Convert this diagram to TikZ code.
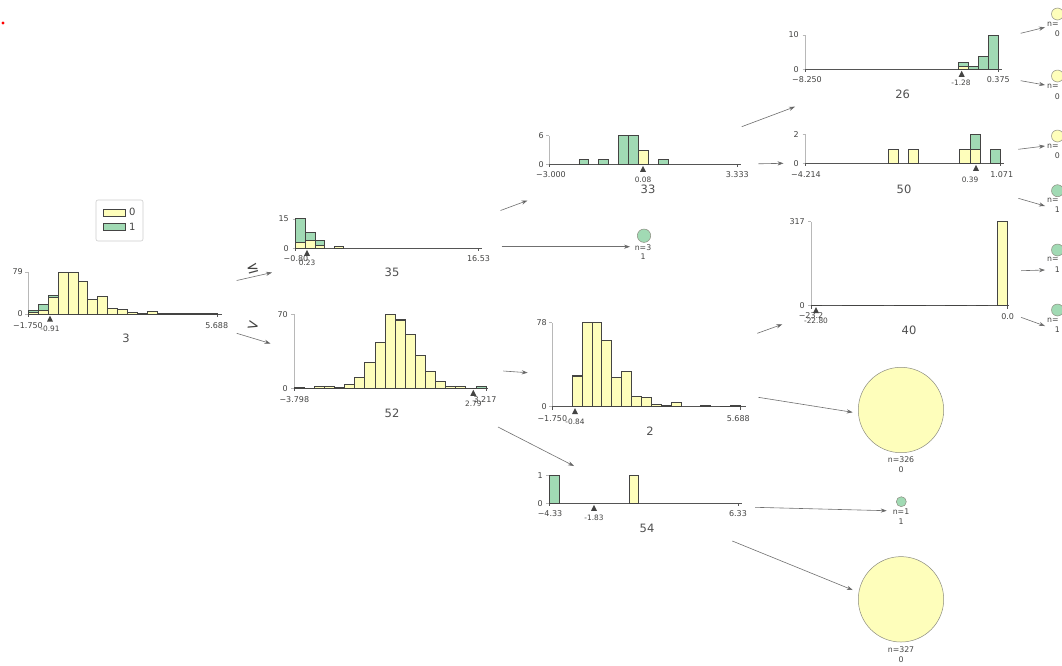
\documentclass[tikz,border=0pt]{standalone}
\usepackage{fontspec}
\setmainfont{DejaVu Sans}
\usetikzlibrary{arrows.meta}

\definecolor{cyel}{HTML}{FEFEBB}
\definecolor{cgrn}{HTML}{A1DAB4}
\definecolor{ink}{HTML}{444443}
\definecolor{idink}{HTML}{505050}
\definecolor{axisgray}{HTML}{B8B8B8}
\definecolor{axisdark}{HTML}{555555}
\definecolor{linegray}{HTML}{707070}
\definecolor{leafedge}{HTML}{8C8C80}
\definecolor{legendedge}{HTML}{CCCCCC}

% axes of one histogram: x0, x1, baseline, top, right overhang
\newcommand{\histframe}[5]{%
  \draw[yaxisline] (#1,#3) -- (#1,#4);
  \draw[yaxisline] (#1-3,#4) -- (#1,#4);
  \draw[yaxisline] (#1-3,#3) -- (#1,#3);
  \draw[xaxisline] (#1,#3) -- (#2+#5,#3);
  \draw[xaxisline] (#1,#3) -- (#1,#3+3);
  \draw[xaxisline] (#2,#3) -- (#2,#3+3);
}
% stacked bars: x0, baseline, bin width, list bin/yellow/green (heights)
\newcommand{\histbars}[4]{%
  \foreach \b/\ya/\gb in {#4}{%
    \pgfmathsetmacro{\xl}{#1+\b*#3}%
    \ifdim\ya pt>0pt \draw[barstyle,fill=cyel] (\xl,#2) rectangle ++(#3,-\ya);\fi
    \ifdim\gb pt>0pt \draw[barstyle,fill=cgrn] (\xl,#2-\ya) rectangle ++(#3,-\gb);\fi
  }}
% split marker below the axis: x, baseline
\newcommand{\splitmark}[2]{\fill[ink] (#1,#2+1.5) -- (#1+3,#2+7.5) -- (#1-3,#2+7.5) -- cycle;}

\tikzset{
  barstyle/.style={draw=ink, line width=0.45pt},
  yaxisline/.style={draw=axisgray, line width=0.6pt},
  xaxisline/.style={draw=axisdark, line width=0.6pt},
  tick/.style={font=\fontsize{8}{9}\selectfont, text=ink, inner sep=0pt},
  thr/.style={font=\fontsize{7.4}{8}\selectfont, text=ink, inner sep=0pt},
  nid/.style={font=\fontsize{11.5}{13}\selectfont, text=idink, inner sep=0pt},
  leaftxt/.style={font=\fontsize{7.8}{8}\selectfont, text=ink, inner sep=0pt},
  edgesym/.style={font=\fontsize{15}{16}\selectfont, text=ink, inner sep=0pt},
  legtxt/.style={font=\fontsize{10}{11}\selectfont, text=ink, inner sep=0pt, anchor=west},
  conn/.style={draw=linegray, line width=0.6pt, -{Stealth[length=6pt,width=4.2pt,fill=ink]}},
  leafY/.style={circle, draw=leafedge, fill=cyel, line width=0.5pt, inner sep=0pt, minimum size=#1},
  leafG/.style={circle, draw=leafedge, fill=cgrn, line width=0.5pt, inner sep=0pt, minimum size=#1},
  swatch/.style={draw=ink, line width=0.4pt},
}

\begin{document}
\begin{tikzpicture}[x=1pt,y=-1pt]
\useasboundingbox (0,0) rectangle (1062,665);
\fill[white] (0,0) rectangle (1062,665);

% small red marker in the corner
\fill[red] (3,23) circle (1.6);

% ---------- legend ----------
\draw[draw=legendedge, fill=white, line width=0.6pt, rounded corners=2pt] (96,200) rectangle (143,241);
\draw[swatch, fill=cyel] (103.5,209) rectangle (125,215.7);
\draw[swatch, fill=cgrn] (103.5,222.7) rectangle (125,230);
\node[legtxt] (leg0) at (129,212.3) {0};
\node[legtxt] (leg1) at (129,226.7) {1};

% ---------- node 3 (root) ----------
\histframe{28}{217}{314}{272}{5}
\histbars{28}{314}{9.947}{0/2/2, 1/3.3/6.4, 2/16.3/2.4, 3/42/0, 4/42/0, 5/33/0, 6/15/0, 7/18/0, 8/5.7/0, 9/5/0, 10/1.7/0, 11/1/0, 12/3/0, 13/0.6/0, 14/0.4/0, 15/0.8/0, 16/0.3/0, 17/0.3/0, 18/0.7/0}
\node[tick,anchor=east] (r-ymax) at (23,272) {79};
\node[tick,anchor=east] (r-y0) at (23,314) {0};
\node[tick] (r-xmin) at (28,325.5) {−1.750};
\node[tick] (r-xmax) at (216.7,325.5) {5.688};
\splitmark{50}{314}
\node[thr] (r-split) at (50,328.5) {-0.91};
\node[nid] (n3) at (126,338.5) {3};

% ---------- node 35 ----------
\histframe{295.7}{478.4}{248.3}{219}{4}
\histbars{295.7}{248.3}{9.6}{0/5.7/24.3, 1/7.7/8.3, 2/3/5, 4/2/0}
\node[tick,anchor=east] (a-ymax) at (289,219) {15};
\node[tick,anchor=east] (a-y0) at (289,248.3) {0};
\node[tick] (a-xmin) at (296,258.8) {−0.80};
\node[tick] (a-xmax) at (478.5,258.8) {16.53};
\splitmark{307}{248.3}
\node[thr] (a-split) at (307,262.5) {0.23};
\node[nid] (n35) at (392,272.7) {35};

% ---------- node 52 ----------
\histframe{294}{486}{388.3}{314.3}{2}
\histbars{294}{388.3}{10.1}{0/0/0.8, 1/0.4/0, 2/1.7/0, 3/2.3/0, 4/1.3/0, 5/4.3/0, 6/10.7/0, 7/25.7/0, 8/46.3/0, 9/74/0, 10/68.5/0.8, 11/54/0, 12/33/0, 13/17/0, 14/7.3/0, 15/2.3/0, 16/1.7/0, 17/0.5/0, 18/0/2.3}
\node[tick,anchor=east] (b-ymax) at (288,314.3) {70};
\node[tick,anchor=east] (b-y0) at (288,388.3) {0};
\node[tick] (b-xmin) at (294.3,400) {−3.798};
\node[tick] (b-xmax) at (485,399.3) {3.217};
\splitmark{473.3}{388.3}
\node[thr] (b-split) at (473.3,403.5) {2.79};
\node[nid] (n52) at (392,413) {52};

% ---------- node 33 ----------
\histframe{549}{737.3}{164.3}{135.7}{4}
\histbars{549}{164.3}{9.91}{3/0/4.78, 5/0/4.78, 7/0/28.6, 8/0/28.6, 9/14.3/0, 11/0/4.78}
\node[tick,anchor=east] (c-ymax) at (544,135.7) {6};
\node[tick,anchor=east] (c-y0) at (544,164.3) {0};
\node[tick] (c-xmin) at (551,175) {−3.000};
\node[tick] (c-xmax) at (737.3,175) {3.333};
\splitmark{643}{164.3}
\node[thr] (c-split) at (643,180) {0.08};
\node[nid] (n33) at (648,189.3) {33};

% ---------- node 2 ----------
\histframe{552.3}{740}{406.7}{322.7}{6}
\histbars{552.3}{406.7}{9.88}{2/30.7/0.6, 3/84/0, 4/84/0, 5/66/0, 6/29.3/0, 7/35/0, 8/10/0, 9/9/0, 10/2.3/0, 11/1.3/0, 12/4.3/0, 15/1/0, 17/0.5/0, 18/1/0}
\node[tick,anchor=east] (d-ymax) at (547,322.7) {78};
\node[tick,anchor=east] (d-y0) at (547,406.7) {0};
\node[tick] (d-xmin) at (552.3,418.3) {−1.750};
\node[tick] (d-xmax) at (738.3,418.3) {5.688};
\splitmark{575}{406.7}
\node[thr] (d-split) at (575,422) {-0.84};
\node[nid] (n2) at (650,431.7) {2};

% ---------- node 54 ----------
\histframe{549.3}{738}{503.3}{475.7}{4}
\histbars{549.3}{503.3}{9.93}{0/0/27.6, 8/27.6/0}
\node[tick,anchor=east] (e-ymax) at (543,475.7) {1};
\node[tick,anchor=east] (e-y0) at (543,503.3) {0};
\node[tick] (e-xmin) at (550,514) {−4.33};
\node[tick] (e-xmax) at (738,514) {6.33};
\splitmark{594}{503.3}
\node[thr] (e-split) at (594,518) {-1.83};
\node[nid] (n54) at (647,528) {54};

% ---------- node 26 ----------
\histframe{805.7}{998.3}{69.3}{35}{4}
\histbars{805.7}{69.3}{10.14}{15/2.7/4.3, 16/0/2.7, 17/0/13.3, 18/0/34.3}
\node[tick,anchor=east] (f-ymax) at (799,35) {10};
\node[tick,anchor=east] (f-y0) at (799,69.3) {0};
\node[tick] (f-xmin) at (807,80) {−8.250};
\node[tick] (f-xmax) at (998.3,80) {0.375};
\splitmark{961.7}{69.3}
\node[thr] (f-split) at (961,83) {-1.28};
\node[nid] (n26) at (902.7,94.3) {26};

% ---------- node 50 ----------
\histframe{805.7}{1000.7}{163.3}{134.3}{3}
\histbars{805.7}{163.3}{10.26}{8/14.5/0, 10/14.5/0, 15/14.5/0, 16/14.5/14.5, 18/0/14.5}
\node[tick,anchor=east] (g-ymax) at (799,134.3) {2};
\node[tick,anchor=east] (g-y0) at (799,163.3) {0};
\node[tick] (g-xmin) at (806,175) {−4.214};
\node[tick] (g-xmax) at (1001.7,175) {1.071};
\splitmark{976}{163.3}
\node[thr] (g-split) at (970,180) {0.39};
\node[nid] (n50) at (904,189.3) {50};

% ---------- node 40 ----------
\histframe{811}{1007.7}{305.7}{221.7}{1}
\histbars{811}{305.7}{10.35}{0/0.6/0, 3/0.6/0, 4/0.6/0, 5/0.6/0, 6/0.6/0, 8/0.6/0, 9/0.6/0, 10/0.6/0, 13/0.6/0, 14/0.6/0, 16/0.6/0, 18/84/0}
\node[tick,anchor=east] (h-ymax) at (805,221.7) {317};
\node[tick,anchor=east] (h-y0) at (805,305.7) {0};
\node[tick] (h-xmin) at (811,316) {−23.2};
\node[tick] (h-xmax) at (1007.7,316.7) {0.0};
\splitmark{816}{305.7}
\node[thr] (h-split) at (816,320.7) {-22.80};
\node[nid] (n40) at (909,330.7) {40};

% ---------- leaves ----------
\node[leafG=13.4pt] (L3) at (644,235.7) {};
\node[leaftxt] (L3n) at (643,247.7) {n=3};
\node[leaftxt] (L3c) at (643,256.7) {1};

\node[leafY=85.4pt] (L326) at (901,410) {};
\node[leaftxt] (L326n) at (901,459.3) {n=326};
\node[leaftxt] (L326c) at (901,469.3) {0};

\node[leafG=10pt] (L1) at (901.3,501.7) {};
\node[leaftxt] (L1n) at (901,511.3) {n=1};
\node[leaftxt] (L1c) at (901,521.7) {1};

\node[leafY=85.4pt] (L327) at (901,599.3) {};
\node[leaftxt] (L327n) at (901,649.3) {n=327};
\node[leaftxt] (L327c) at (901,659.3) {0};

% leaves along the right border
\foreach \nm/\cy/\ny/\vy/\cls/\st in {Ra/14/24/33.3/0/leafY, Rb/76/86/96.7/0/leafY, Rc/136/146/155.3/0/leafY, Rd/190.7/200/209.3/1/leafG, Re/250/259.3/269.3/1/leafG, Rf/310/320/330/1/leafG}{
  \node[\st=12pt] (\nm) at (1057.5,\cy) {};
  \node[leaftxt,anchor=west] (\nm-n) at (1047,\ny) {n=};
  \node[leaftxt] (\nm-c) at (1057.3,\vy) {\cls};
}

% ---------- connectors ----------
\coordinate (r-le) at (236.7,280.5);   \coordinate (a-in) at (272,272.5);
\coordinate (r-gt) at (236.7,333.3);   \coordinate (b-in) at (270.5,343.5);
\coordinate (a-le) at (500.5,210.5);   \coordinate (c-in) at (527.5,200.5);
\coordinate (a-gt) at (501.7,246.7);   \coordinate (L3-in) at (630,246.7);
\coordinate (b-le) at (503.3,371);     \coordinate (d-in) at (527.7,372.7);
\coordinate (b-gt) at (498,427);       \coordinate (e-in) at (574,466);
\coordinate (c-le) at (741.7,126.7);   \coordinate (f-in) at (795,106.7);
\coordinate (c-gt) at (758.3,163.8);   \coordinate (g-in) at (783.5,163.3);
\coordinate (d-le) at (757.3,333.3);   \coordinate (h-in) at (782.3,324.3);
\coordinate (d-gt) at (758.3,397.3);   \coordinate (L326-in) at (852.7,412.3);
\coordinate (e-le) at (755,507.3);     \coordinate (L1-in) at (886.7,510.7);
\coordinate (e-gt) at (732.3,541);     \coordinate (L327-in) at (852.7,590);
\coordinate (f-le) at (1020.7,33.3);   \coordinate (Ra-in) at (1045,27.3);
\coordinate (f-gt) at (1020.7,80.7);   \coordinate (Rb-in) at (1045,85);
\coordinate (g-le) at (1018.3,149.3);  \coordinate (Rc-in) at (1045,146);
\coordinate (g-gt) at (1018.3,198.3);  \coordinate (Rd-in) at (1045,206);
\coordinate (h-le) at (1021,270.7);    \coordinate (Re-in) at (1045,270);
\coordinate (h-gt) at (1021,317.3);    \coordinate (Rf-in) at (1045,326);

\foreach \s/\t in {r-le/a-in, r-gt/b-in, a-le/c-in, a-gt/L3-in, b-le/d-in, b-gt/e-in,
                   c-le/f-in, c-gt/g-in, d-le/h-in, d-gt/L326-in, e-le/L1-in, e-gt/L327-in,
                   f-le/Ra-in, f-gt/Rb-in, g-le/Rc-in, g-gt/Rd-in, h-le/Re-in, h-gt/Rf-in}
  \draw[conn] (\s) -- (\t);

% split direction labels on the root's edges
\node[edgesym, rotate=15] (sym-le) at (252.5,268.3) {≤};
\node[edgesym, rotate=-15] (sym-gt) at (253,326) {>};
\end{tikzpicture}
\end{document}
